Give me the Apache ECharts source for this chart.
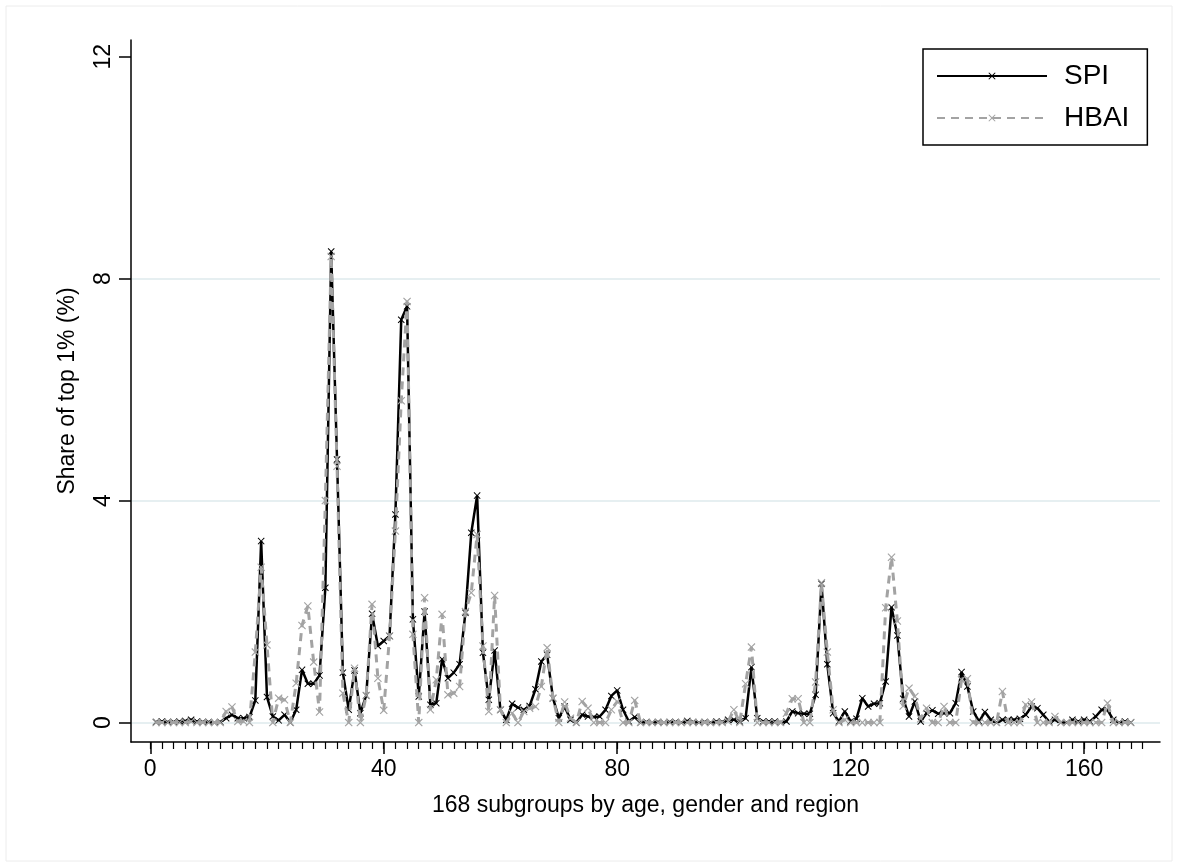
<!DOCTYPE html>
<html>
<head>
<meta charset="utf-8">
<script src="https://cdn.jsdelivr.net/npm/echarts@6/dist/echarts.min.js"></script>
<style>
   html, body { margin: 0; padding: 0; background: #fff; }
   #chart { width: 1178px; height: 867px; }
</style>
</head>
<body>
<div id="chart"></div>
<script>
// share of top 1% (%) for each of the 168 subgroups
const spi = [
   0.01, 0.02, 0.01, 0.01, 0.02, 0.03, 0.05, 0.02, 0.01, 0.01,
   0.00, 0.01, 0.08, 0.14, 0.08, 0.08, 0.10, 0.40, 3.27, 0.46,
   0.11, 0.04, 0.14, 0.00, 0.23, 0.95, 0.70, 0.70, 0.85, 2.43,
   8.49, 4.74, 0.90, 0.23, 0.94, 0.17, 0.49, 1.96, 1.38, 1.47,
   1.56, 3.75, 7.26, 7.50, 1.86, 0.47, 2.00, 0.32, 0.35, 1.14,
   0.80, 0.90, 1.05, 1.98, 3.42, 4.09, 1.26, 0.41, 1.30, 0.23,
   0.05, 0.34, 0.27, 0.23, 0.30, 0.60, 1.10, 1.22, 0.44, 0.08,
   0.29, 0.05, 0.00, 0.14, 0.11, 0.10, 0.11, 0.23, 0.48, 0.58,
   0.23, 0.02, 0.10, 0.00, 0.01, 0.00, 0.01, 0.00, 0.01, 0.01,
   0.00, 0.03, 0.01, 0.00, 0.01, 0.00, 0.02, 0.01, 0.05, 0.05,
   0.02, 0.08, 1.00, 0.08, 0.02, 0.02, 0.02, 0.00, 0.02, 0.20,
   0.17, 0.16, 0.16, 0.50, 2.50, 1.05, 0.17, 0.02, 0.20, 0.02,
   0.07, 0.44, 0.29, 0.34, 0.35, 0.74, 2.08, 1.57, 0.43, 0.11,
   0.38, 0.02, 0.17, 0.22, 0.16, 0.17, 0.17, 0.35, 0.91, 0.65,
   0.20, 0.02, 0.19, 0.05, 0.00, 0.05, 0.05, 0.05, 0.07, 0.14,
   0.29, 0.26, 0.14, 0.02, 0.05, 0.00, 0.00, 0.05, 0.02, 0.05,
   0.02, 0.11, 0.23, 0.23, 0.05, 0.00, 0.02, 0.00
];

const hbai = [
   0.00, 0.00, 0.00, 0.00, 0.00, 0.00, 0.02, 0.00, 0.00, 0.00,
   0.00, 0.00, 0.20, 0.28, 0.02, 0.02, 0.00, 1.27, 2.80, 1.40,
   0.00, 0.44, 0.41, 0.00, 0.71, 1.75, 2.10, 1.09, 0.19, 4.00,
   8.40, 4.62, 0.53, 0.00, 0.98, 0.00, 0.49, 2.13, 0.80, 0.22,
   1.56, 3.45, 5.80, 7.59, 1.59, 0.00, 2.25, 0.23, 0.77, 1.95,
   0.50, 0.53, 0.65, 2.00, 2.34, 3.39, 1.38, 0.20, 2.29, 0.23,
   0.00, 0.17, 0.00, 0.20, 0.26, 0.29, 0.65, 1.35, 0.44, 0.00,
   0.37, 0.08, 0.00, 0.38, 0.26, 0.00, 0.00, 0.00, 0.23, 0.38,
   0.00, 0.00, 0.40, 0.00, 0.00, 0.00, 0.00, 0.00, 0.00, 0.00,
   0.00, 0.00, 0.00, 0.00, 0.00, 0.00, 0.00, 0.00, 0.02, 0.23,
   0.00, 0.70, 1.36, 0.00, 0.00, 0.00, 0.00, 0.00, 0.17, 0.43,
   0.43, 0.00, 0.00, 0.73, 2.52, 1.27, 0.23, 0.00, 0.05, 0.00,
   0.00, 0.00, 0.00, 0.00, 0.00, 2.07, 2.98, 1.83, 0.30, 0.62,
   0.47, 0.07, 0.26, 0.00, 0.00, 0.29, 0.00, 0.00, 0.77, 0.79,
   0.00, 0.00, 0.00, 0.00, 0.00, 0.56, 0.00, 0.00, 0.00, 0.32,
   0.37, 0.00, 0.00, 0.00, 0.11, 0.00, 0.00, 0.00, 0.00, 0.00,
   0.00, 0.00, 0.00, 0.35, 0.00, 0.00, 0.00, 0.00
];

const subgroups = spi.map((v, i) => i + 1);
const xTicks = [0, 40, 80, 120, 160];
const xMinorTicks = Array.from({ length: 86 }, (v, i) => i * 2);
const yTicks = [0, 4, 8, 12];

const FONT = "Liberation Sans";
const CROSS = "path://M0,1L1,0L5,4L9,0L10,1L6,5L10,9L9,10L5,6L1,10L0,9L4,5Z";

const chart = echarts.init(document.getElementById("chart"));

chart.setOption({
   animation: false,
   backgroundColor: "#fff",
   graphic: [
      {
         type: "rect",
         shape: { x: 6, y: 6, width: 1166, height: 855 },
         style: { fill: "none", stroke: "#ececec", lineWidth: 1 },
         silent: true,
      },
   ],
   legend: {
      left: 923,
      top: 49,
      orient: "vertical",
      itemWidth: 110,
      itemHeight: 9,
      itemGap: 14,
      padding: [13, 18, 13, 13],
      borderColor: "#000",
      borderWidth: 1.5,
      textStyle: {
         fontFamily: FONT,
         fontSize: 28,
         color: "#000",
         padding: [0, 0, 0, 12],
      },
      data: ["SPI", "HBAI"],
   },
   grid: {
      left: 131,
      right: 18,
      top: 40,
      bottom: 125,
      containLabel: false,
   },
   xAxis: [
      {
         type: "value",
         position: "bottom",
         min: -3.3,
         max: 173,
         name: "168 subgroups by age, gender and region",
         nameLocation: "middle",
         nameGap: 52,
         nameTextStyle: { fontFamily: FONT, fontSize: 23, color: "#000" },
         axisLine: { show: true, onZero: false, lineStyle: { color: "#000", width: 1.5 } },
         axisTick: {
            show: true,
            length: 12,
            customValues: xTicks,
            lineStyle: { color: "#000", width: 1.5 },
         },
         axisLabel: {
            customValues: xTicks,
            margin: 16,
            fontFamily: FONT,
            fontSize: 23,
            color: "#000",
         },
         splitLine: { show: false },
      },
      {
         type: "value",
         position: "bottom",
         min: -3.3,
         max: 173,
         axisLine: { show: false, onZero: false },
         axisTick: {
            show: true,
            length: 7,
            customValues: xMinorTicks,
            lineStyle: { color: "#000", width: 1.2 },
         },
         axisLabel: { show: false },
         splitLine: { show: false },
      },
   ],
   yAxis: {
      type: "value",
      min: -0.35,
      max: 12.3,
      name: "Share of top 1% (%)",
      nameLocation: "middle",
      nameGap: 52,
      nameTextStyle: { fontFamily: FONT, fontSize: 23, color: "#000" },
      axisLine: { show: true, onZero: false, lineStyle: { color: "#000", width: 1.5 } },
      axisTick: {
         show: true,
         length: 12,
         customValues: yTicks,
         lineStyle: { color: "#000", width: 1.5 },
      },
      axisLabel: {
         customValues: yTicks,
         rotate: 90,
         margin: 16,
         fontFamily: FONT,
         fontSize: 23,
         color: "#000",
      },
      splitLine: {
         show: true,
         lineStyle: {
            color: ["#e6eff1", "#e6eff1", "#e6eff1", "rgba(0,0,0,0)"],
            width: 2,
         },
      },
   },
   series: [
      {
         name: "SPI",
         type: "line",
         data: subgroups.map((x, i) => [x, spi[i]]),
         symbol: CROSS,
         symbolSize: 7,
         showAllSymbol: true,
         itemStyle: { color: "#000" },
         lineStyle: { color: "#000", width: 2.5 },
         z: 2,
      },
      {
         name: "HBAI",
         type: "line",
         data: subgroups.map((x, i) => [x, hbai[i]]),
         symbol: CROSS,
         symbolSize: 8,
         showAllSymbol: true,
         itemStyle: { color: "#a3a3a3" },
         lineStyle: { color: "#a3a3a3", width: 3, type: [8, 6] },
         z: 3,
      },
   ],
});
</script>
</body>
</html>
